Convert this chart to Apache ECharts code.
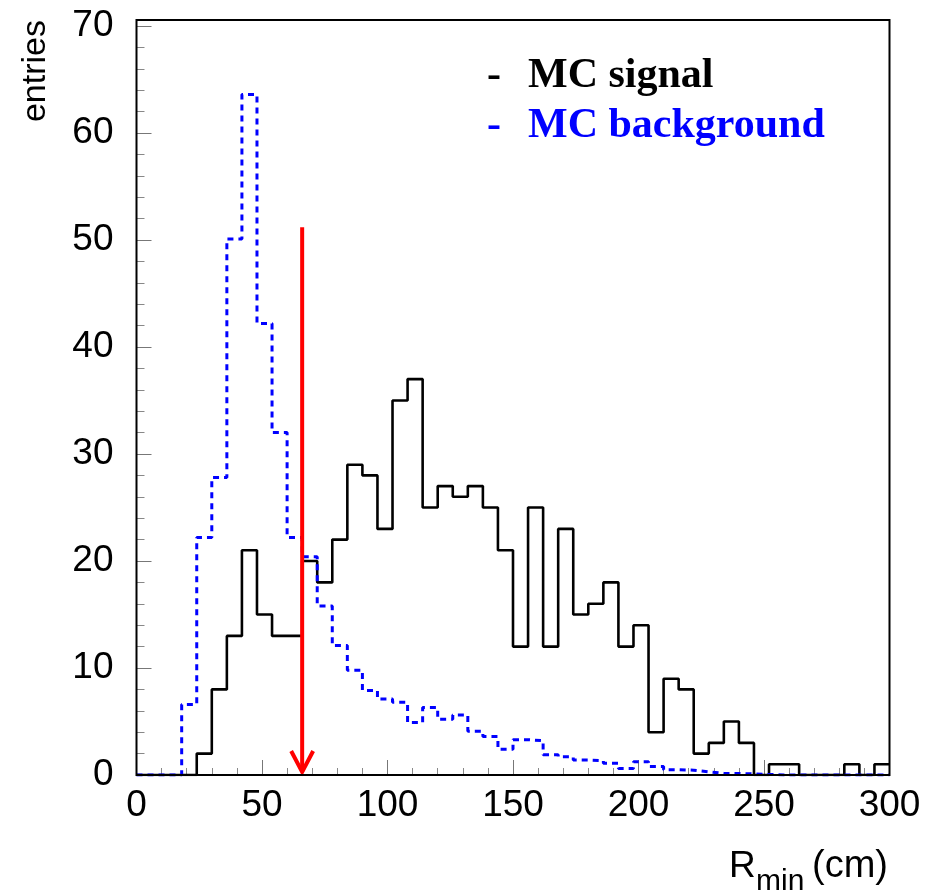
<!DOCTYPE html>
<html>
<head>
<meta charset="utf-8">
<title>R_min distribution</title>
<script src="https://cdn.jsdelivr.net/npm/echarts@6/dist/echarts.min.js"></script>
<style>
  html, body { margin: 0; padding: 0; background: #fff; }
  #chart { width: 927px; height: 895px; }
</style>
</head>
<body>
<div id="chart"></div>
<script>
// Histogram binning: 50 bins of 6 cm from 0 to 300 cm
const BIN_WIDTH = 6;
const X_MIN = 0;
const X_MAX = 300;

// Tick values along each axis
const xTicks = [0, 50, 100, 150, 200, 250, 300];
const yTicks = [0, 10, 20, 30, 40, 50, 60, 70];

// Entries per bin, MC signal (solid black)
const signalCounts = [
  0, 0, 0, 0, 2, 8, 13, 21, 15, 13,
  13, 20, 18, 22, 29, 28, 23, 35, 37, 25,
  27, 26, 27, 25, 21, 12, 25, 12, 23, 15,
  16, 18, 12, 14, 4, 9, 8, 2, 3, 5,
  3, 0, 1, 1, 0, 0, 0, 1, 0, 1
];

// Entries per bin, MC background (dashed blue, normalised)
const backgroundCounts = [
  0, 0, 0, 6.6, 22.2, 27.8, 50.1, 63.6, 42.2, 32,
  22.2, 20.4, 15.8, 12.1, 9.8, 7.9, 7.1, 6.8, 4.9, 6.3,
  5.2, 5.6, 4.1, 3.6, 2.4, 3.3, 3.2, 1.9, 1.7, 1.4,
  1.35, 1.1, 0.6, 1.25, 0.8, 0.5, 0.45, 0.3, 0.15, 0.15,
  0.1, 0.05, 0, 0, 0, 0, 0, 0, 0, 0
];

// Selection cut marker (arrow)
const cutValue = 66;
const cutArrowTop = 51.2;

// Turn bin contents into step-line points at the bin edges
function toSteps(counts) {
  const pts = counts.map((v, i) => [X_MIN + i * BIN_WIDTH, v]);
  pts.push([X_MIN + counts.length * BIN_WIDTH, counts[counts.length - 1]]);
  return pts;
}

const chart = echarts.init(document.getElementById('chart'), null, { renderer: 'canvas' });

const GRID = { left: 136.5, top: 26, width: 753, height: 749 };
const AXIS_FONT = 'Liberation Sans, Arial, Helvetica, sans-serif';
const LEGEND_FONT = 'Liberation Serif, Times New Roman, serif';

const option = {
  backgroundColor: '#ffffff',
  animation: false,
  grid: GRID,
  xAxis: {
    type: 'value',
    min: X_MIN,
    max: X_MAX,
    interval: xTicks[1] - xTicks[0],
    axisLine: { show: false },
    axisTick: { show: true, inside: true, length: 15, lineStyle: { color: '#777', width: 1 } },
    minorTick: { show: true, splitNumber: 5, length: 7, lineStyle: { color: '#888', width: 1 } },
    splitLine: { show: false },
    axisLabel: {
      show: true, margin: 12, color: '#000', fontSize: 37, fontFamily: AXIS_FONT,
      formatter: v => (xTicks.indexOf(v) >= 0 ? String(v) : '')
    }
  },
  yAxis: {
    type: 'value',
    min: 0,
    max: yTicks[yTicks.length - 1],
    interval: yTicks[1] - yTicks[0],
    axisLine: { show: false },
    axisTick: { show: true, inside: true, length: 15, lineStyle: { color: '#777', width: 1 } },
    minorTick: { show: true, splitNumber: 5, length: 8, lineStyle: { color: '#888', width: 1 } },
    splitLine: { show: false },
    axisLabel: {
      show: true, margin: 23, color: '#000', fontSize: 37, fontFamily: AXIS_FONT,
      formatter: v => (yTicks.indexOf(v) >= 0 ? String(v) : '')
    }
  },
  series: [
    {
      name: 'MC signal',
      type: 'line',
      step: 'end',
      data: toSteps(signalCounts),
      symbol: 'none',
      lineStyle: { color: '#000000', width: 2.6 },
      z: 3
    },
    {
      name: 'MC background',
      type: 'line',
      step: 'end',
      data: toSteps(backgroundCounts),
      symbol: 'none',
      lineStyle: { color: '#0000ff', width: 3, type: [6, 5] },
      z: 4
    },
    {
      name: 'cut',
      type: 'custom',
      data: [[cutValue, cutArrowTop]],
      z: 5,
      renderItem: function (params, api) {
        const top = api.coord([api.value(0), api.value(1)]);
        const base = api.coord([api.value(0), 0]);
        const tipY = base[1] - 3;
        return {
          type: 'group',
          children: [
            {
              type: 'line',
              shape: { x1: top[0], y1: top[1], x2: top[0], y2: tipY },
              style: { stroke: '#ff0000', lineWidth: 4 }
            },
            {
              type: 'polyline',
              shape: { points: [[top[0] - 11, tipY - 21], [top[0], tipY], [top[0] + 11, tipY - 21]] },
              style: { stroke: '#ff0000', lineWidth: 4, fill: null }
            }
          ]
        };
      }
    }
  ],
  graphic: [
    // plot frame
    {
      type: 'rect',
      z: 10,
      shape: { x: 136.5, y: 20, width: 753, height: 755 },
      style: { fill: null, stroke: '#000', lineWidth: 2 }
    },
    // y-axis title
    {
      type: 'text',
      x: 36, y: 20,
      rotation: Math.PI / 2,
      style: {
        text: 'entries', fontSize: 34, fontFamily: AXIS_FONT, fill: '#000',
        align: 'right', verticalAlign: 'middle'
      }
    },
    // x-axis title R_min(cm)
    {
      type: 'text', x: 729, y: 867,
      style: { text: 'R', fontSize: 37, fontFamily: AXIS_FONT, fill: '#000', align: 'left', verticalAlign: 'middle' }
    },
    {
      type: 'text', x: 756, y: 882,
      style: { text: 'min', fontSize: 30, fontFamily: AXIS_FONT, fill: '#000', align: 'left', verticalAlign: 'middle' }
    },
    {
      type: 'text', x: 888, y: 867,
      style: { text: '(cm)', fontSize: 38, fontFamily: AXIS_FONT, fill: '#000', align: 'right', verticalAlign: 'middle' }
    },
    // legend
    {
      type: 'text', x: 487, y: 76,
      style: { text: '-', fontSize: 42, fontWeight: 'bold', fontFamily: LEGEND_FONT, fill: '#000', align: 'left', verticalAlign: 'middle' }
    },
    {
      type: 'text', x: 528, y: 76,
      style: { text: 'MC signal', fontSize: 42, fontWeight: 'bold', fontFamily: LEGEND_FONT, fill: '#000', align: 'left', verticalAlign: 'middle' }
    },
    {
      type: 'text', x: 487, y: 126,
      style: { text: '-', fontSize: 42, fontWeight: 'bold', fontFamily: LEGEND_FONT, fill: '#0000ff', align: 'left', verticalAlign: 'middle' }
    },
    {
      type: 'text', x: 528, y: 126,
      style: { text: 'MC background', fontSize: 42, fontWeight: 'bold', fontFamily: LEGEND_FONT, fill: '#0000ff', align: 'left', verticalAlign: 'middle' }
    }
  ]
};

chart.setOption(option);
</script>
</body>
</html>
